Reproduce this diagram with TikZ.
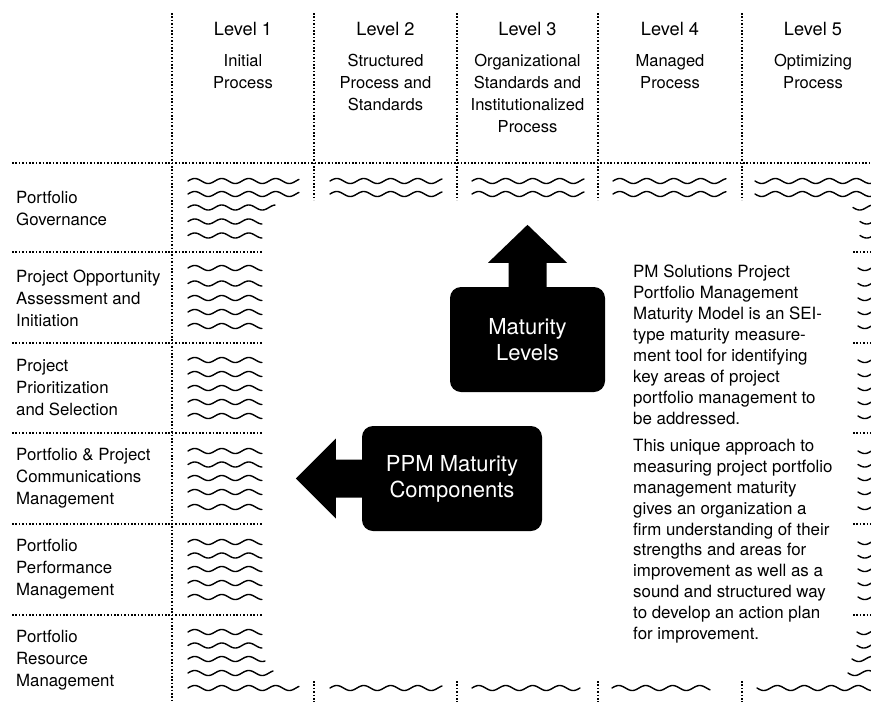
\documentclass[tikz,border=0pt]{standalone}
\usepackage{fontspec}
\setmainfont{TeX Gyre Heros}
% one wavy placeholder line: #2..#3 horizontal extent, #4 height, #1 = +1 starts rising, -1 starts falling
\newcommand\wavyline[4][1]{\draw[wave] plot[domain=#2:#3,samples=120] (\x,{#4-#1*2.5*sin((\x-#2)/27*360)});}
\begin{document}
\begin{tikzpicture}[x=1pt,y=-1pt,
  grid/.style={line width=1.6pt, dash pattern=on 1.6pt off 1.8pt},
  wave/.style={line width=1.4pt, line cap=round},
  levelhead/.style={font=\fontsize{18.2}{22}\selectfont, anchor=base, inner sep=0},
  levelsub/.style={font=\fontsize{16.5}{22}\selectfont, align=center, anchor=base, inner sep=0},
  comp/.style={font=\fontsize{16.8}{22}\selectfont, align=left, anchor=west, inner sep=0},
  blackbox/.style={fill=black, text=white, rounded corners=11pt, align=center,
    font=\fontsize{22}{26}\selectfont, inner sep=0},
  note/.style={font=\fontsize{16.9}{20.9}\selectfont, align=left, anchor=base west, inner sep=0}
]
\useasboundingbox (0,0) rectangle (871,702);
\clip (0,0) rectangle (871,702);

% ---- grid ----
\draw[grid] (12,163) -- (871,163);
\foreach \y in {252,343,433,524,615}{
  \draw[grid] (12,\y) -- (262,\y);
  \draw[grid] (853,\y) -- (871,\y);
}
\draw[grid] (172,13) -- (172,702);
\foreach \x in {314,457,598,742}{
  \draw[grid] (\x,13) -- (\x,200);
  \draw[grid] (\x,681) -- (\x,702);
}

% ---- column headings (sub-heading nodes sit on the baseline of their last line) ----
\foreach \n/\x/\b/\t in {1/243/88.5/{Initial\\Process},
                      2/385.5/110.5/{Structured\\Process and\\Standards},
                      3/527.5/132.5/{Organizational\\Standards and\\Institutionalized\\Process},
                      4/670/88.5/{Managed\\Process},
                      5/813/88.5/{Optimizing\\Process}}{
  \node[levelhead] (lv\n) at (\x,35) {Level \n};
  \node[levelsub] (sub\n) at (\x,\b) {\t};
}

% ---- component labels ----
\node[comp] (c1) at (16,208)   {Portfolio\\Governance};
\node[comp] (c2) at (16,298)   {Project Opportunity\\Assessment and\\Initiation};
\node[comp] (c3) at (16,388)   {Project\\Prioritization\\and Selection};
\node[comp] (c4) at (16,478.5) {Portfolio \& Project\\Communications\\Management};
\node[comp] (c5) at (16,569.5) {Portfolio\\Performance\\Management};
\node[comp] (c6) at (16,660)   {Portfolio\\Resource\\Management};

% ---- wavy placeholders: level 1 column ----
\foreach \y/\e in {181/299,194/299,207.5/275,221.5/262,235.5/262,
                   268/262,283.5/262,298/262,312/262,326/262,
                   360/262,374/262,388/262,402/262,416/262,
                   451/262,464.5/262,478/262,492/262,507/262,
                   542/262,555.5/262,569/262,583/262,597/262,
                   632/262,645.5/262,659/265,673/273,688/299}{
  \wavyline{188}{\e}{\y}
}
% ---- level 5 column ----
\foreach \y/\s in {181/755,194/755,207.5/853,221.5/860,235.5/860,
                   268/858,283.5/858,298/858,312/858,326/858,
                   360/858,374/858,388/858,402/858,416/858,
                   451/858,464.5/858,478/858,492/858,507/858,
                   542/858,555.5/858,569/858,583/858,597/858,
                   632/857,645.5/857,659/852,673/848,688/757}{
  \wavyline[-1]{\s}{900}{\y}
}
% ---- top and bottom rows ----
\foreach \y in {181,194}{
  \wavyline{330}{442}{\y}
  \wavyline{472}{584}{\y}
  \wavyline{613}{726}{\y}
}
\wavyline{330}{442}{688}
\wavyline{472}{580}{688}
\wavyline{612}{710}{688}

% ---- black direction boxes ----
\node[blackbox, minimum width=155pt, minimum height=105pt] (ml) at (527.5,339.5) {Maturity\\Levels};
\fill[shift={(ml.north)}] (-19,3) -- (-19,-24) -- (-39.5,-24) -- (0,-62) -- (39.5,-24) -- (19,-24) -- (19,3) -- cycle;

\node[blackbox, minimum width=180pt, minimum height=105pt] (pc) at (452,478.5) {PPM Maturity\\Components};
\fill[shift={(pc.west)}] (3,-19) -- (-26,-19) -- (-26,-40) -- (-66,0) -- (-26,40) -- (-26,19) -- (3,19) -- cycle;

% ---- description (node sits on the baseline of its last line) ----
\node[note] (desc) at (633,639.5) {PM Solutions Project\\
Portfolio Management\\
Maturity Model is an SEI-\\
type maturity measure-\\
ment tool for identifying\\
key areas of project\\
portfolio management to\\
be addressed.\\[6.5pt]
This unique approach to\\
measuring project portfolio\\
management maturity\\
gives an organization a\\
firm understanding of their\\
strengths and areas for\\
improvement as well as a\\
sound and structured way\\
to develop an action plan\\
for improvement.};
\end{tikzpicture}
\end{document}
